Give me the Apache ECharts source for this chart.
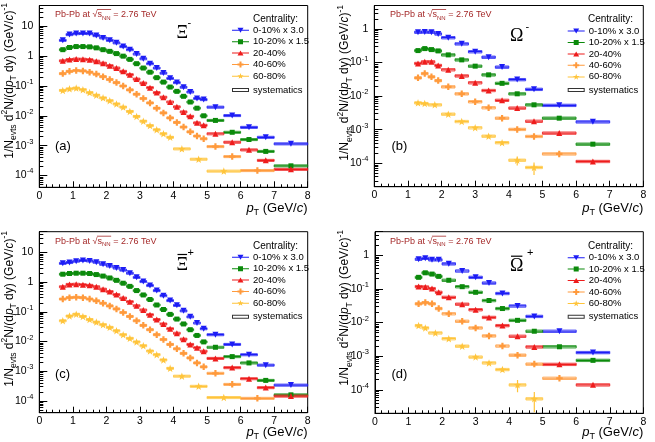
<!DOCTYPE html>
<html><head><meta charset="utf-8">
<script src="https://cdn.jsdelivr.net/npm/echarts/dist/echarts.min.js"></script>
<style>html,body{margin:0;padding:0;background:#fff}#c{width:655px;height:442px}</style>
</head><body><div id="c"></div>
<script>
// ---------------- DATA ----------------
const CENTRALITIES = ['0-10% x 3.0', '10-20% x 1.5', '20-40%', '40-60%', '60-80%'];
const SYST_NAME = 'systematics';

// pT bin edges (GeV/c)
const XI_EDGES = [0.6,0.8,1.0,1.2,1.4,1.6,1.8,2.0,2.2,2.4,2.6,2.8,3.0,3.2,3.4,3.6,3.8,4.0,4.2,4.4,4.6,4.8,5.0,5.5,6.0,6.5,7.0,8.0];
const XI_EDGES_40_60 = [0.6,0.8,1.0,1.2,1.4,1.6,1.8,2.0,2.2,2.4,2.6,2.8,3.0,3.2,3.4,3.6,3.8,4.0,4.2,4.4,4.6,4.8,5.0,5.5,6.0,7.0];
const XI_EDGES_60_80 = [0.6,0.8,1.0,1.2,1.4,1.6,1.8,2.0,2.2,2.4,2.6,2.8,3.0,3.2,3.4,3.6,3.8,4.0,4.5,5.0,6.0];
const OM_EDGES = [1.2,1.4,1.6,1.8,2.0,2.4,2.8,3.2,3.6,4.0,4.5,5.0,6.0,7.0];
const OM_EDGES_40_60 = [1.2,1.4,1.6,1.8,2.0,2.4,2.8,3.2,3.6,4.0,4.5,5.0,6.0];
const OM_EDGES_60_80 = [1.2,1.4,1.6,2.0,2.4,2.8,3.2,3.6,4.0,4.5,5.0];

// (a) Xi-
const xiMinus_0_10  = [3.4,5.3,5.7,5.8,5.7,4.9,4.1,3.4,2.8,2.1,1.65,1.18,0.82,0.56,0.40,0.27,0.18,0.13,0.091,0.063,0.038,0.035,0.0195,0.0102,0.0041,0.0019,0.00115];
const xiMinus_10_20 = [1.65,1.95,2.1,2.1,2.05,1.9,1.65,1.45,1.22,1.0,0.78,0.56,0.40,0.29,0.19,0.135,0.092,0.066,0.045,0.029,0.018,0.010,0.0070,0.0028,0.0016,0.00064,0.00021];
const xiMinus_20_40 = [0.70,0.77,0.80,0.79,0.76,0.68,0.58,0.48,0.40,0.31,0.24,0.17,0.125,0.088,0.060,0.042,0.029,0.020,0.0135,0.0096,0.0058,0.0048,0.0025,0.0013,0.00072,0.00032,0.00016];
const xiMinus_40_60 = [0.26,0.31,0.33,0.32,0.29,0.25,0.205,0.165,0.13,0.10,0.074,0.053,0.038,0.027,0.018,0.0125,0.0085,0.0060,0.0042,0.0029,0.0021,0.0017,0.00093,0.00043,0.000146];
const xiMinus_60_80 = [0.071,0.080,0.085,0.075,0.060,0.049,0.040,0.032,0.025,0.0196,0.014,0.0095,0.0066,0.0047,0.0034,0.0025,0.0019,0.00078,0.00035,0.00014];

// (b) Omega-
const omMinus_0_10  = [0.80,0.81,0.80,0.71,0.55,0.36,0.21,0.144,0.073,0.031,0.0159,0.0053,0.00171];
const omMinus_10_20 = [0.227,0.26,0.243,0.222,0.169,0.12,0.078,0.043,0.024,0.0117,0.0055,0.0022,0.00037];
const omMinus_20_40 = [0.094,0.105,0.105,0.082,0.061,0.040,0.025,0.0147,0.0075,0.0044,0.00178,0.00079,0.000113];
const omMinus_40_60 = [0.035,0.047,0.0375,0.029,0.0189,0.0117,0.0068,0.0045,0.0022,0.00102,0.00063,0.00019];
const omMinus_60_80 = [0.0063,0.0060,0.0055,0.0029,0.00175,0.00114,0.00064,0.00041,0.000123,0.000075];
const omMinus_60_80_stat = [0.08,0.08,0.08,0.08,0.08,0.08,0.1,0.12,0.3,0.4];

// (c) anti-Xi+
const xiPlus_0_10  = [4.3,4.6,5.1,5.4,5.2,4.7,4.0,3.5,3.0,2.55,2.0,1.45,1.05,0.77,0.52,0.35,0.24,0.165,0.108,0.068,0.042,0.027,0.017,0.0080,0.0036,0.0016,0.00034];
const xiPlus_10_20 = [1.85,1.95,2.0,2.0,1.95,1.8,1.6,1.38,1.15,0.92,0.72,0.52,0.37,0.26,0.17,0.12,0.082,0.057,0.039,0.025,0.016,0.0097,0.0064,0.0031,0.0019,0.00049,0.00016];
const xiPlus_20_40 = [0.70,0.84,0.85,0.82,0.78,0.70,0.58,0.48,0.38,0.29,0.22,0.16,0.115,0.080,0.055,0.039,0.027,0.019,0.012,0.0080,0.0062,0.0047,0.0027,0.00132,0.00056,0.00028,0.000145];
const xiPlus_40_60 = [0.27,0.30,0.31,0.30,0.27,0.235,0.195,0.158,0.125,0.095,0.07,0.05,0.035,0.025,0.017,0.0117,0.0080,0.0057,0.0040,0.0028,0.0019,0.0014,0.00085,0.00036,0.000122];
const xiPlus_60_80 = [0.050,0.072,0.083,0.070,0.055,0.045,0.037,0.030,0.023,0.017,0.0128,0.0097,0.0072,0.0048,0.0036,0.0024,0.00125,0.00068,0.00031,0.00013];

// (d) anti-Omega+
const omPlus_0_10  = [0.76,0.81,0.73,0.73,0.555,0.34,0.22,0.149,0.073,0.031,0.0152,0.0055,0.00128];
const omPlus_10_20 = [0.22,0.30,0.275,0.235,0.18,0.116,0.079,0.045,0.026,0.0116,0.0055,0.0019,0.00075];
const omPlus_20_40 = [0.117,0.114,0.102,0.079,0.056,0.035,0.024,0.0142,0.0081,0.0039,0.00188,0.00057,0.00014];
const omPlus_40_60 = [0.036,0.039,0.036,0.026,0.0182,0.0109,0.0069,0.0040,0.0020,0.00107,0.00058,0.00022];
const omPlus_60_80 = [0.0081,0.0069,0.0049,0.0033,0.00198,0.00094,0.00063,0.00040,0.00014,0.000054];
const omPlus_60_80_stat = [0.08,0.08,0.08,0.08,0.08,0.1,0.1,0.12,0.4,0.6];

const STAT_REL = 0.04;   // default relative statistical error
const SYST_REL = 0.08;   // relative systematic error (box half-height)

// ---------------- STYLE ----------------
const FONT = '"Liberation Sans", Arial, Helvetica, sans-serif';
const SERIF = '"Liberation Serif", "DejaVu Serif", serif';
const COLORS = ['#1c1cf5', '#0b8a0b', '#ee1c1c', '#ff9a3c', '#ffc43a'];
const PLUS_PATH = 'path://M2,0 L4,0 L4,2 L6,2 L6,4 L4,4 L4,6 L2,6 L2,4 L0,4 L0,2 L2,2 Z';
const STAR_PATH = 'path://M17,1.5 L18.53,5.9 L23.18,5.99 L19.47,8.8 L20.82,13.26 L17,10.6 L13.18,13.26 L14.53,8.8 L10.82,5.99 L15.47,5.9 Z';
const MARKERS = [
  {symbol:'triangle', size:6, rotate:180},
  {symbol:'rect', size:5, rotate:0},
  {symbol:'triangle', size:6, rotate:0},
  {symbol:PLUS_PATH, size:6.5, rotate:0},
  {symbol:STAR_PATH, size:7.5, rotate:0}
];
const LINE = 'M0,7 L34,7 L34,9 L0,9 Z ';
const LEGEND_ICONS = [
  'path://' + LINE + 'M11,3 L23,3 L17,13 Z',
  'path://' + LINE + 'M12,3 L22,3 L22,13 L12,13 Z',
  'path://' + LINE + 'M17,3 L23,13 L11,13 Z',
  'path://' + LINE + 'M15,2 L19,2 L19,6 L23,6 L23,10 L19,10 L19,14 L15,14 L15,10 L11,10 L11,6 L15,6 Z',
  'path://' + LINE + 'M17,1.5 L18.53,5.9 L23.18,5.99 L19.47,8.8 L20.82,13.26 L17,10.6 L13.18,13.26 L14.53,8.8 L10.82,5.99 L15.47,5.9 Z'
];
const SYS_ICON = 'path://M0,0 L34,0 L34,8 L0,8 Z M2,2 L2,6 L32,6 L32,2 Z';

const PANELS = [
  {grid:{left:39.3, top:5.5, width:268.4, height:181.8}, ymin:4e-5, ymax:50,
   sets:[[XI_EDGES, xiMinus_0_10],[XI_EDGES, xiMinus_10_20],[XI_EDGES, xiMinus_20_40],[XI_EDGES_40_60, xiMinus_40_60],[XI_EDGES_60_80, xiMinus_60_80]],
   stat:[null,null,null,null,null],
   tag:'(a)', tagPos:[55,146.7], pbPos:[55,15], cenPos:[253,19], legPos:[232,24.6], sysTop:84.3, ytPos:[9.5,3], xtPos:[307.5,208],
   particle:{sym:'Ξ', pos:[176.5,33], sup:'-', supPos:[187.5,23], bar:false}},
  {grid:{left:374.3, top:5.5, width:269, height:181.2}, ymin:2e-5, ymax:5,
   sets:[[OM_EDGES, omMinus_0_10],[OM_EDGES, omMinus_10_20],[OM_EDGES, omMinus_20_40],[OM_EDGES_40_60, omMinus_40_60],[OM_EDGES_60_80, omMinus_60_80]],
   stat:[null,null,null,null,omMinus_60_80_stat],
   tag:'(b)', tagPos:[391.5,146.7], pbPos:[390,15], cenPos:[588,19.3], legPos:[567.7,25.4], sysTop:84.3, ytPos:[345,5], xtPos:[643.3,208],
   particle:{sym:'Ω', pos:[510,36.7], sup:'-', supPos:[525.5,26.7], bar:false}},
  {grid:{left:39.3, top:231.7, width:268.4, height:181}, ymin:4e-5, ymax:50,
   sets:[[XI_EDGES, xiPlus_0_10],[XI_EDGES, xiPlus_10_20],[XI_EDGES, xiPlus_20_40],[XI_EDGES_40_60, xiPlus_40_60],[XI_EDGES_60_80, xiPlus_60_80]],
   stat:[null,null,null,null,null],
   tag:'(c)', tagPos:[55,374], pbPos:[55,241.7], cenPos:[253,246], legPos:[232,251.6], sysTop:311, ytPos:[9.5,231], xtPos:[307.5,432],
   particle:{sym:'Ξ', pos:[176.5,265], sup:'+', supPos:[187.5,253.3], bar:true}},
  {grid:{left:375, top:231.7, width:268.3, height:181.6}, ymin:2e-5, ymax:5,
   sets:[[OM_EDGES, omPlus_0_10],[OM_EDGES, omPlus_10_20],[OM_EDGES, omPlus_20_40],[OM_EDGES_40_60, omPlus_40_60],[OM_EDGES_60_80, omPlus_60_80]],
   stat:[null,null,null,null,omPlus_60_80_stat],
   tag:'(d)', tagPos:[391.5,374], pbPos:[390,241.7], cenPos:[588,246], legPos:[567.7,252], sysTop:311, ytPos:[345,230], xtPos:[643.3,432],
   particle:{sym:'Ω', pos:[510,266.7], sup:'+', supPos:[527,253.3], bar:true}}
];

// ---------------- BUILD ----------------
const mctx = document.createElement('canvas').getContext('2d');
function tw(txt, font) { mctx.font = font; return mctx.measureText(txt).width; }

function yLabel(v) {
  const l = Math.log10(v), e = Math.round(l);
  if (Math.abs(l - e) > 1e-6) return '';
  if (e === 0) return '1';
  if (e === 1) return '10';
  return '10{sup|' + e + '}';
}

const grids = [], xAxes = [], yAxes = [], series = [], legends = [], graphics = [];

PANELS.forEach((p, gi) => {
  grids.push(Object.assign({show:true, borderColor:'#000', borderWidth:1, backgroundColor:'transparent', containLabel:false, outerBoundsMode:'none'}, p.grid));
  xAxes.push({
    type:'value', gridIndex:gi, min:0, max:8, interval:1,
    axisLine:{show:true, onZero:false, lineStyle:{color:'#000', width:1}},
    axisTick:{show:true, inside:true, length:6, lineStyle:{color:'#000'}},
    minorTick:{show:true, splitNumber:5, length:3, lineStyle:{color:'#000'}},
    splitLine:{show:false},
    axisLabel:{fontSize:10.5, color:'#000', margin:3, fontFamily:FONT}
  });
  yAxes.push({
    type:'log', logBase:10, gridIndex:gi, min:p.ymin, max:p.ymax,
    axisLine:{show:true, lineStyle:{color:'#000', width:1}},
    axisTick:{show:true, inside:true, length:8, lineStyle:{color:'#000'}},
    minorTick:{show:true, splitNumber:9, length:4, lineStyle:{color:'#000'}},
    splitLine:{show:false},
    axisLabel:{fontSize:10.5, color:'#000', margin:6, fontFamily:FONT, lineHeight:16, showMinLabel:false, showMaxLabel:false,
      formatter:yLabel, rich:{sup:{fontSize:7.5, fontFamily:FONT, lineHeight:8, verticalAlign:'top'}}}
  });

  p.sets.forEach((set, k) => {
    const edges = set[0], vals = set[1], errs = p.stat[k];
    const color = COLORS[k], name = CENTRALITIES[k];
    const errData = vals.map((v, j) => [(edges[j] + edges[j+1]) / 2, edges[j], edges[j+1], v, errs ? errs[j] : STAT_REL]);
    series.push({
      type:'custom', name, xAxisIndex:gi, yAxisIndex:gi, silent:true, clip:true, z:2,
      itemStyle:{color}, data:errData, encode:{x:0, y:3},
      renderItem:(params, api) => {
        const xc = api.value(0), lo = api.value(1), hi = api.value(2), v = api.value(3), e = api.value(4);
        const c = api.coord([xc, v]), l = api.coord([lo, v]), h = api.coord([hi, v]);
        const st = api.coord([xc, v * (1 + SYST_REL)]), sb = api.coord([xc, v * (1 - SYST_REL)]);
        const et = api.coord([xc, v * (1 + e)]), eb = api.coord([xc, v * (1 - e)]);
        return {type:'group', children:[
          {type:'rect', shape:{x:l[0], y:st[1], width:h[0]-l[0], height:sb[1]-st[1]}, style:{fill:'none', stroke:color, lineWidth:0.8}},
          {type:'line', shape:{x1:l[0], y1:c[1], x2:h[0], y2:c[1]}, style:{stroke:color, lineWidth:1.2}},
          {type:'line', shape:{x1:c[0], y1:et[1], x2:c[0], y2:eb[1]}, style:{stroke:color, lineWidth:1.2}}
        ]};
      }
    });
    series.push({
      type:'scatter', name, xAxisIndex:gi, yAxisIndex:gi, silent:true, z:3,
      symbol:MARKERS[k].symbol, symbolSize:MARKERS[k].size, symbolRotate:MARKERS[k].rotate,
      itemStyle:{color, opacity:1}, data: vals.map((v, j) => [(edges[j] + edges[j+1]) / 2, v])
    });
  });

  legends.push({
    orient:'vertical', left:p.legPos[0], top:p.legPos[1], padding:0, itemGap:0, itemWidth:17, itemHeight:8,
    symbolKeepAspect:true, selectedMode:false,
    textStyle:{fontSize:9.5, lineHeight:11.4, color:'#000', fontFamily:FONT, padding:[0,0,0,-1]},
    data: CENTRALITIES.map((n, k) => ({name:n, icon:LEGEND_ICONS[k]}))
  });
  legends.push({
    orient:'vertical', left:p.legPos[0], top:p.sysTop, padding:0, itemGap:0, itemWidth:17, itemHeight:8,
    symbolKeepAspect:true, selectedMode:false,
    textStyle:{fontSize:9.5, lineHeight:11.4, color:'#000', fontFamily:FONT, padding:[0,0,0,-1]},
    data:[{name:SYST_NAME, icon:SYS_ICON}]
  });

  // Pb-Pb text with sqrt overline
  const pbFont = '9px ' + FONT, pbSub = '6px ' + FONT;
  const w1 = tw('Pb-Pb at √', pbFont), ws = tw('s', pbFont), wn = tw('NN', pbSub);
  graphics.push({type:'text', x:p.pbPos[0], y:p.pbPos[1], silent:true,
    style:{text:'Pb-Pb at √s{sub|NN} = 2.76 TeV', fill:'#a52a2a', fontSize:9, fontFamily:FONT, verticalAlign:'middle', lineHeight:12,
      rich:{sub:{fontSize:6, fontFamily:FONT, fill:'#a52a2a', lineHeight:6, verticalAlign:'bottom'}}}});
  graphics.push({type:'line', silent:true, shape:{x1:p.pbPos[0] + w1 - 0.5, y1:p.pbPos[1] - 5.5, x2:p.pbPos[0] + w1 + ws + wn + 0.5, y2:p.pbPos[1] - 5.5},
    style:{stroke:'#a52a2a', lineWidth:0.8}});

  // particle label
  const pf = '18px ' + SERIF;
  graphics.push({type:'text', x:p.particle.pos[0], y:p.particle.pos[1], silent:true,
    style:{text:p.particle.sym, fill:'#000', fontSize:18, fontFamily:SERIF, verticalAlign:'middle'}});
  graphics.push({type:'text', x:p.particle.supPos[0], y:p.particle.supPos[1], silent:true,
    style:{text:p.particle.sup, fill:'#000', fontSize:11, fontFamily:FONT, verticalAlign:'middle'}});
  if (p.particle.bar) {
    const wsym = tw(p.particle.sym, pf);
    graphics.push({type:'line', silent:true, shape:{x1:p.particle.pos[0] + 1, y1:p.particle.pos[1] - 10.5, x2:p.particle.pos[0] + wsym - 1, y2:p.particle.pos[1] - 10.5},
      style:{stroke:'#000', lineWidth:1.2}});
  }

  // panel tag
  graphics.push({type:'text', x:p.tagPos[0], y:p.tagPos[1], silent:true,
    style:{text:p.tag, fill:'#000', fontSize:13, fontFamily:FONT, verticalAlign:'middle'}});
  // Centrality:
  graphics.push({type:'text', x:p.cenPos[0], y:p.cenPos[1], silent:true,
    style:{text:'Centrality:', fill:'#000', fontSize:10, fontFamily:FONT, verticalAlign:'middle'}});
  // x-axis title (right-aligned under the axis end, ROOT style)
  graphics.push({type:'text', x:p.xtPos[0], y:p.xtPos[1], silent:true,
    style:{text:'{i|p}{sub|T} (GeV/{i|c})', fill:'#000', fontSize:13, fontFamily:FONT, align:'right', verticalAlign:'middle', lineHeight:18,
      rich:{i:{fontSize:13, fontStyle:'italic', fontFamily:FONT, lineHeight:18}, sub:{fontSize:9, fontFamily:FONT, lineHeight:9, verticalAlign:'bottom'}}}});
  // y-axis title (right-aligned at the top of the axis, ROOT style)
  graphics.push({type:'text', x:p.ytPos[0], y:p.ytPos[1], rotation:Math.PI / 2, silent:true,
    style:{text:'1/N{sub|evts} d{sup|2}N/(d{i|p}{sub|T} dy) (GeV/{i|c}){sup|-1}', fill:'#000', fontSize:12, fontFamily:FONT,
      align:'right', verticalAlign:'middle', lineHeight:18,
      rich:{
        sub:{fontSize:8.5, fontFamily:FONT, lineHeight:8, verticalAlign:'bottom'},
        sup:{fontSize:8.5, fontFamily:FONT, lineHeight:8, verticalAlign:'top'},
        i:{fontSize:12, fontStyle:'italic', fontFamily:FONT, lineHeight:18}
      }}});
});

// dummy series so the "systematics" legend entry exists
series.push({type:'scatter', name:SYST_NAME, xAxisIndex:0, yAxisIndex:0, data:[], itemStyle:{color:'#000'}, silent:true});

const chart = echarts.init(document.getElementById('c'), null, {renderer:'canvas', width:655, height:442});
chart.setOption({
  animation:false,
  backgroundColor:'#fff',
  grid:grids, xAxis:xAxes, yAxis:yAxes, series, legend:legends, graphic:{elements:graphics}
});
</script></body></html>
